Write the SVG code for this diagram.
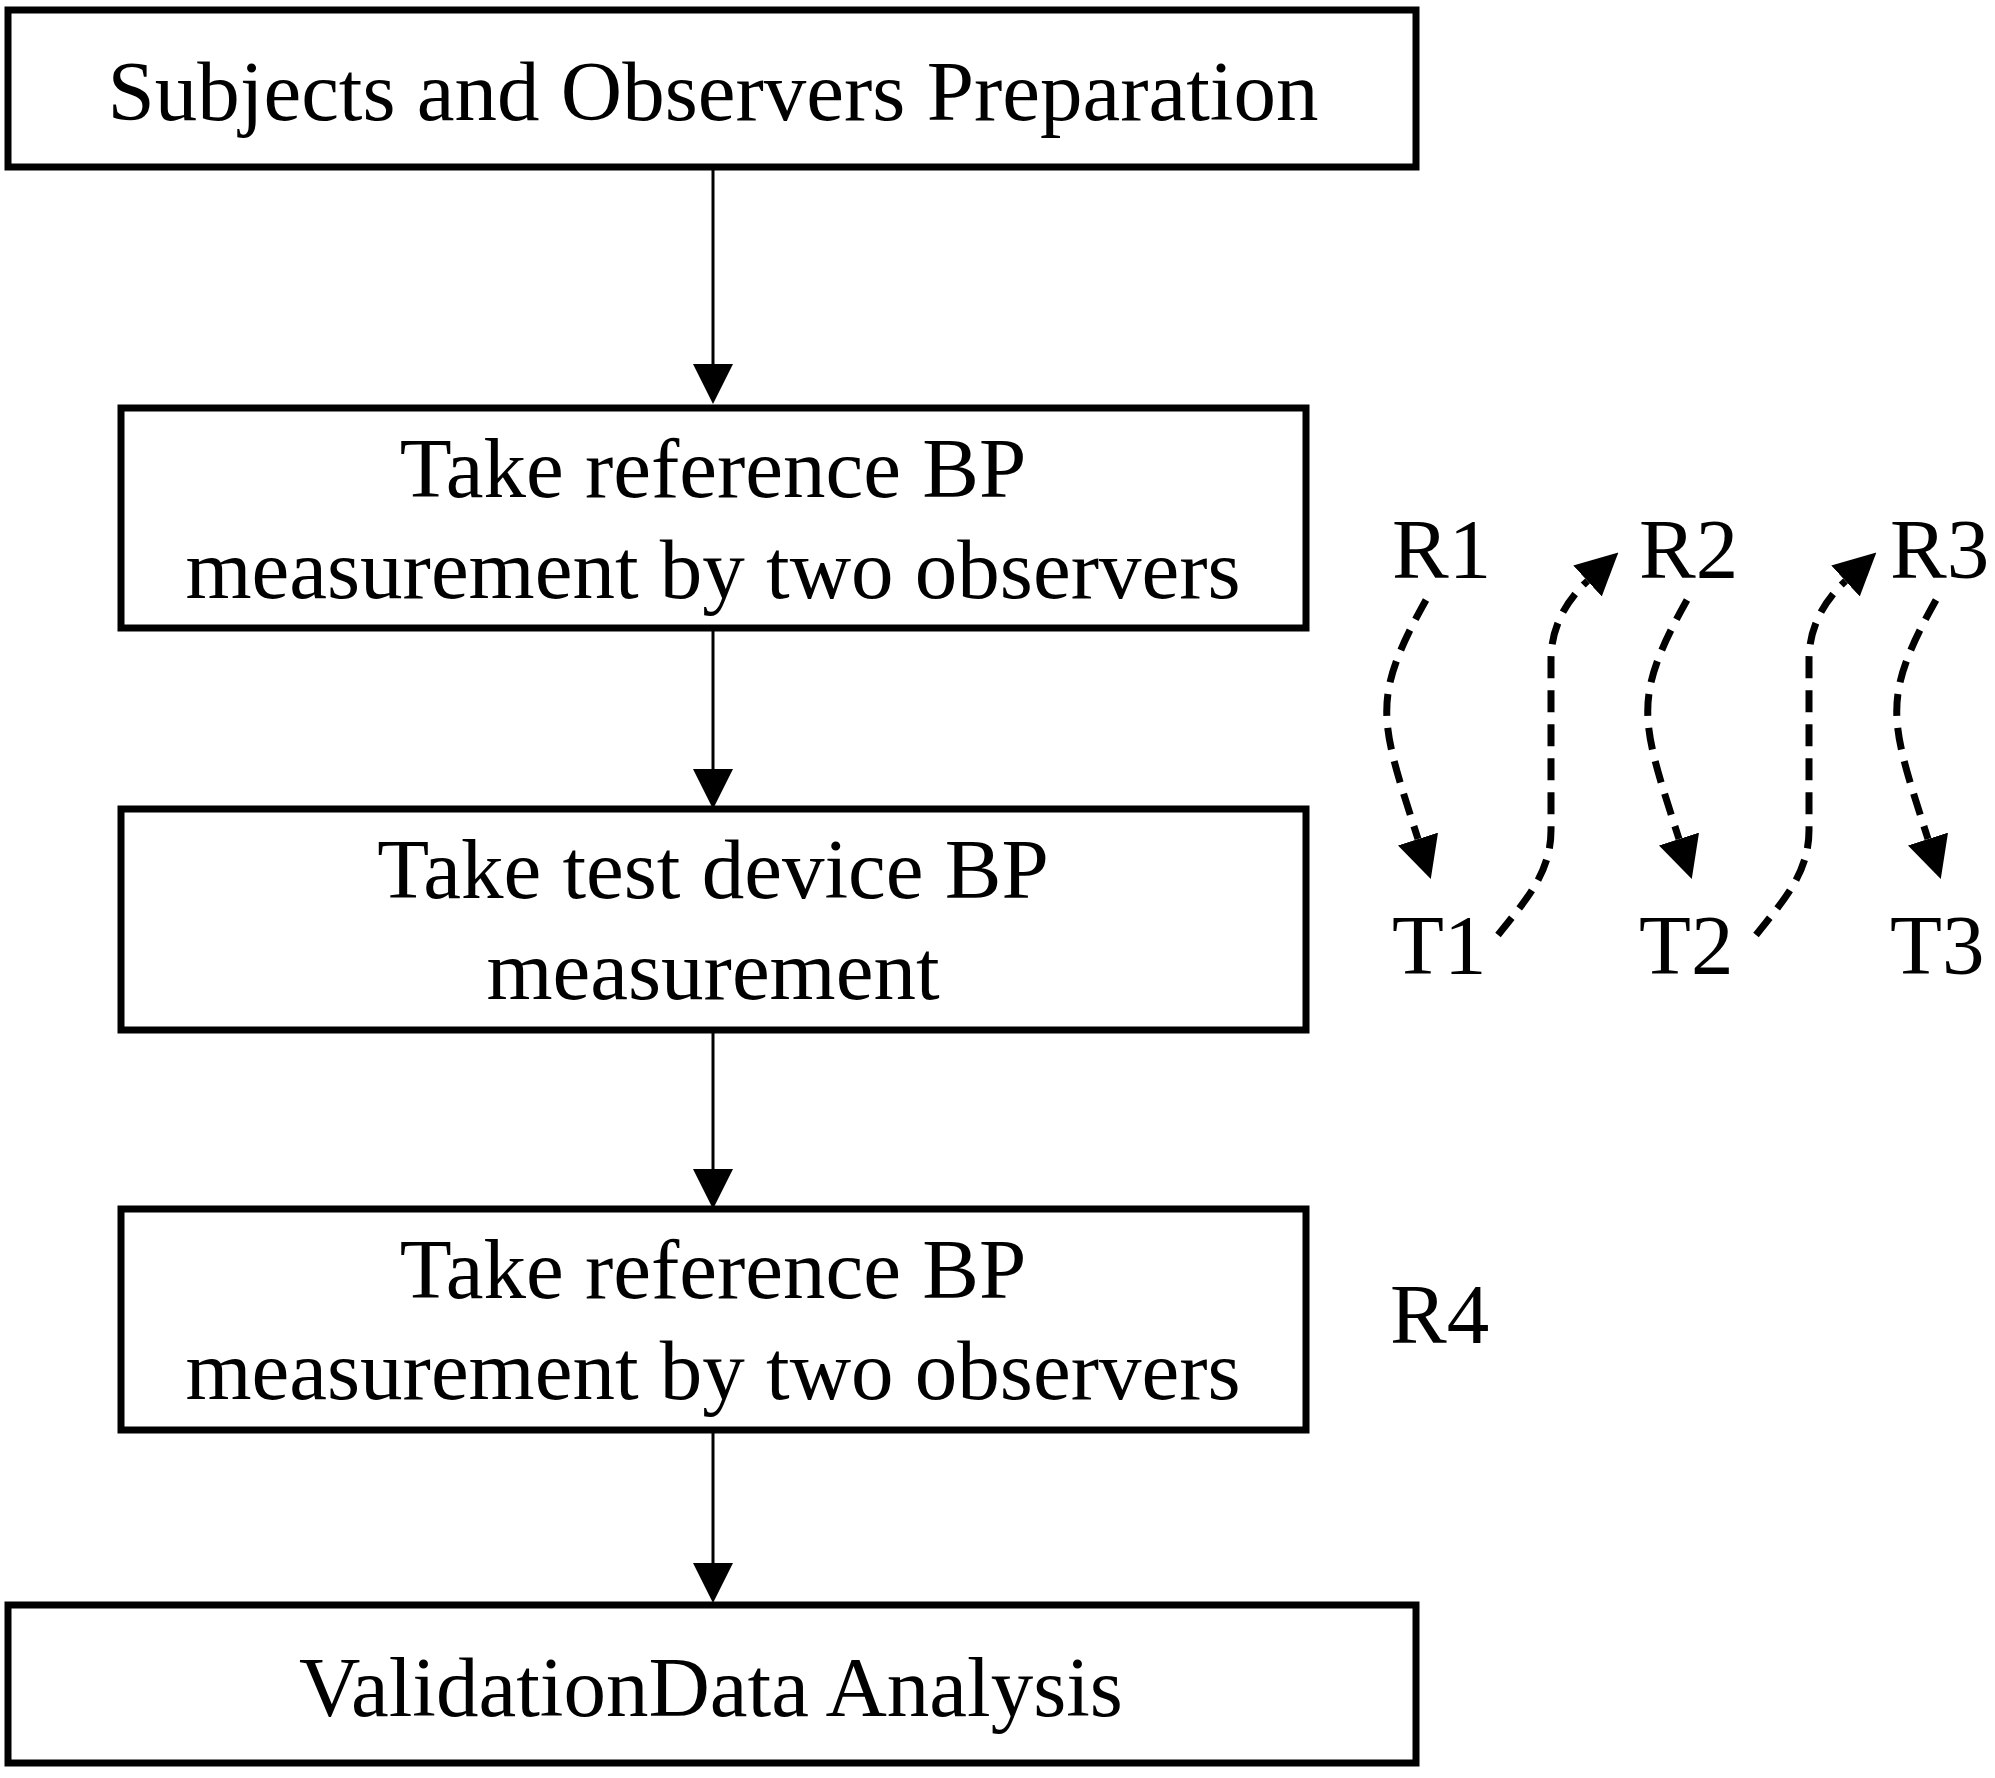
<svg xmlns="http://www.w3.org/2000/svg" width="1995" height="1778" viewBox="0 0 1995 1778">
  <style>
    .box { fill: #ffffff; stroke: #000000; stroke-width: 7; }
    .txt { font-family: "Liberation Serif", "Times New Roman", serif; font-size: 85px; fill: #000000; text-anchor: middle; }
    .lbl { font-family: "Liberation Serif", "Times New Roman", serif; font-size: 85px; fill: #000000; }
    .flow { fill: none; stroke: #000000; stroke-width: 3; }
    .dash { fill: none; stroke: #000000; stroke-width: 7; stroke-dasharray: 22 12; }
  </style>
  <defs>
    <marker id="head" markerUnits="userSpaceOnUse" viewBox="0 0 40 40" markerWidth="40" markerHeight="40" refX="0" refY="20" orient="auto">
      <path d="M0,0 L40,20 L0,40 Z" fill="#000000"/>
    </marker>
    <marker id="dhead" markerUnits="userSpaceOnUse" viewBox="0 0 42 42" markerWidth="42" markerHeight="42" refX="0" refY="21" orient="auto">
      <path d="M0,0 L42,21 L0,42 Z" fill="#000000"/>
    </marker>
  </defs>
  <rect x="0" y="0" width="1995" height="1778" fill="#ffffff"/>

  <g id="connectors">
    <path class="flow" d="M713,167 L713,364" marker-end="url(#head)"/>
    <path class="flow" d="M713,628 L713,769" marker-end="url(#head)"/>
    <path class="flow" d="M713,1030 L713,1169" marker-end="url(#head)"/>
    <path class="flow" d="M713,1430 L713,1563" marker-end="url(#head)"/>

    <path class="dash" d="M1426,600 C1370,700 1380,720 1418,839" marker-end="url(#dhead)"/>
    <path class="dash" d="M1498,935 C1523,903 1551,875 1551,830 L1551,660 C1551,625 1568,599 1587.5,581" marker-end="url(#dhead)"/>
    <path class="dash" d="M1687,600 C1631,700 1641,720 1679,839" marker-end="url(#dhead)"/>
    <path class="dash" d="M1756,935 C1781,903 1809,875 1809,830 L1809,660 C1809,625 1826,599 1845.5,581" marker-end="url(#dhead)"/>
    <path class="dash" d="M1936,600 C1880,700 1890,720 1928,839" marker-end="url(#dhead)"/>
  </g>

  <g id="node-prep">
    <rect class="box" x="8" y="10" width="1408" height="157"/>
    <text class="txt" x="713" y="120">Subjects and Observers Preparation</text>
  </g>
  <g id="node-ref1">
    <rect class="box" x="121" y="408" width="1185" height="220"/>
    <text class="txt" x="713" y="497">Take reference BP</text>
    <text class="txt" x="713" y="598">measurement by two observers</text>
  </g>
  <g id="node-test">
    <rect class="box" x="121" y="809" width="1185" height="221"/>
    <text class="txt" x="713" y="898">Take test device BP</text>
    <text class="txt" x="713" y="999">measurement</text>
  </g>
  <g id="node-ref2">
    <rect class="box" x="121" y="1209" width="1185" height="221"/>
    <text class="txt" x="713" y="1298">Take reference BP</text>
    <text class="txt" x="713" y="1399">measurement by two observers</text>
  </g>
  <g id="node-analysis">
    <rect class="box" x="8" y="1605" width="1408" height="158"/>
    <text class="txt" x="711" y="1716">ValidationData Analysis</text>
  </g>

  <g id="labels">
    <text class="lbl" x="1392" y="578">R1</text>
    <text class="lbl" x="1639" y="578">R2</text>
    <text class="lbl" x="1890" y="578">R3</text>
    <text class="lbl" x="1392" y="974">T1</text>
    <text class="lbl" x="1639" y="974">T2</text>
    <text class="lbl" x="1890" y="974">T3</text>
    <text class="lbl" x="1390" y="1343">R4</text>
  </g>
</svg>
